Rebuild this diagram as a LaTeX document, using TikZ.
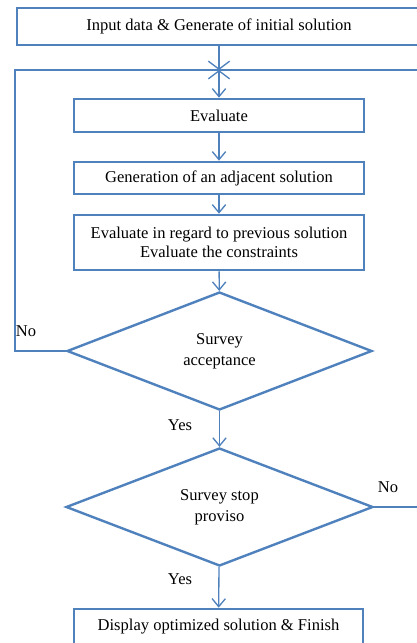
\documentclass[tikz,border=0pt]{standalone}
\usepackage{fontspec}
\setmainfont{Liberation Serif}
\usepackage{tikz}
\usetikzlibrary{shapes.geometric}
\usetikzlibrary{arrows.meta}
\definecolor{flowblue}{HTML}{4F81BD}
\tikzset{
  stepbox/.style={draw=flowblue, line width=2pt, inner sep=0pt, align=center,
    font=\fontsize{12.4}{14.25}\selectfont},
  decision/.style={diamond, draw=flowblue, line width=1.8pt, inner sep=0pt, align=center,
    minimum height=88.5pt, font=\fontsize{12.4}{16}\selectfont},
  link/.style={draw=flowblue, line width=1pt},
  flow/.style={link, -{Straight Barb[length=6pt, width=10pt]}},
  lbl/.style={font=\fontsize{12.4}{14}\selectfont}
}

\begin{document}
\begin{tikzpicture}[x=0.75pt, y=-0.75pt]
  \useasboundingbox (0, 0) rectangle (417, 643);
  \clip (0, 0) rectangle (417, 643);

  % boxes
  \node[stepbox, minimum width=303pt, minimum height=27.75pt] at (219, 26.5) (init)
    {Input data \& Generate of initial solution};
  \node[stepbox, minimum width=217.5pt, minimum height=24.75pt] at (219, 115.5) (eval) {Evaluate};
  \node[stepbox, minimum width=217.5pt, minimum height=24pt] at (219, 178) (gen)
    {Generation of an adjacent solution};
  \node[stepbox, minimum width=217.5pt, minimum height=41.25pt] at (219, 242.5) (cmp)
    {Evaluate in regard to previous solution\\Evaluate the constraints};
  \node[decision, minimum width=228.75pt] at (219.5, 351) (accept) {Survey\\acceptance};
  \node[decision, minimum width=230.25pt] at (219.5, 507) (stop) {Survey stop\\proviso};
  \node[stepbox, minimum width=216.75pt, minimum height=27pt] at (218.5, 627) (finish)
    {Display optimized solution \& Finish};

  % loop corners
  \coordinate (join) at (219, 70);
  \coordinate (lcorner) at (15, 70);
  \coordinate (rcorner) at (432, 70);

  % main flow
  \draw[flow, -{Straight Barb[length=6pt, width=16pt]}] (init) -- (join);
  \draw[flow, {Straight Barb[length=6pt, width=16pt]}-{Straight Barb[length=6pt, width=10pt]}]
    (join) -- (eval);
  \draw[flow] (eval) -- (gen);
  \draw[flow] (gen) -- (cmp);
  \draw[flow] (cmp) -- (accept);
  \draw[flow] (accept) -- (stop);
  \draw[flow] (stop) -- (finish);

  % loops back
  \draw[link] (accept.west) -| (lcorner) -- (join);
  \draw[link] (stop.east) -| (rcorner) -- (join);

  % labels
  \node[lbl] at (26, 331) (no1) {No};
  \node[lbl] at (180, 425) (yes1) {Yes};
  \node[lbl] at (388, 487) (no2) {No};
  \node[lbl] at (180, 579) (yes2) {Yes};
\end{tikzpicture}
\end{document}
